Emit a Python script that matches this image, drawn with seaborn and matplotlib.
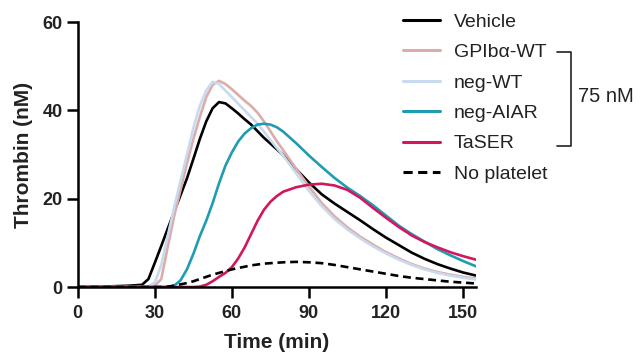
import matplotlib
matplotlib.use("Agg")
import matplotlib.pyplot as plt
from matplotlib.lines import Line2D
import seaborn as sns
import pandas as pd

time_min = [0, 10, 20, 25, 27.5, 30, 32.5, 35, 37.5, 40, 42.5, 45, 47.5, 50, 52.5,
            55, 57.5, 60, 62.5, 65, 67.5, 70, 72.5, 75, 77.5, 80, 85, 90, 95, 100,
            105, 110, 115, 120, 125, 130, 135, 140, 145, 150, 155]

vehicle = [0, 0.1, 0.3, 0.5, 1.8, 5.5, 9.3, 13.2, 17.0, 20.8, 24.6, 29.0, 33.5, 37.5, 40.5,
           41.9, 41.6, 40.5, 39.3, 38.0, 36.8, 35.3, 33.8, 32.5, 31.2, 29.9, 26.7, 23.7, 21.0, 18.9,
           17.0, 15.1, 13.1, 11.2, 9.5, 7.8, 6.4, 5.2, 4.2, 3.3, 2.6]

gpiba_wt = [0, 0, 0, 0, 0, 0.3, 1.8, 9.0, 16.0, 22.0, 28.0, 33.5, 38.5, 43.0, 45.8,
            46.7, 46.0, 44.8, 43.5, 42.2, 41.0, 39.5, 37.5, 35.3, 33.0, 31.0, 26.8, 22.8, 19.0, 16.0,
            13.5, 11.4, 9.6, 7.9, 6.5, 5.2, 4.2, 3.4, 2.8, 2.3, 1.9]

neg_wt = [0, 0, 0, 0, 0.2, 1.0, 5.0, 11.5, 18.0, 24.0, 30.0, 36.0, 41.0, 44.5, 46.5,
          46.0, 44.5, 43.0, 41.5, 40.0, 38.5, 37.0, 35.2, 33.3, 31.5, 29.8, 25.8, 21.8, 18.3, 15.4,
          13.0, 11.0, 9.2, 7.6, 6.2, 5.0, 4.0, 3.2, 2.6, 2.1, 1.7]

neg_aiar = [0, 0, 0, 0, 0, 0, 0, 0, 0.3, 1.5, 4.0, 7.5, 11.5, 15.0, 19.0,
            23.5, 27.5, 30.5, 33.0, 34.8, 36.0, 36.8, 37.0, 36.8, 36.2, 35.2, 32.6, 29.8, 27.2, 24.7,
            22.5, 20.6, 18.5, 16.2, 13.9, 12.0, 10.3, 8.6, 7.2, 5.9, 4.7]

taser = [0, 0, 0, 0, 0, 0, 0, 0, 0, 0, 0, 0, 0.1, 0.5, 1.3,
         2.3, 3.2, 4.5, 6.5, 9.0, 12.0, 15.0, 17.5, 19.3, 20.6, 21.6, 22.6, 23.2, 23.4, 23.0,
         22.0, 20.2, 17.9, 15.7, 13.6, 11.7, 10.2, 9.0, 7.9, 7.0, 6.2]

no_platelet = [0, 0, 0, 0, 0, 0, 0, 0.1, 0.3, 0.6, 0.9, 1.3, 1.8, 2.3, 2.8,
               3.2, 3.6, 4.0, 4.3, 4.6, 4.9, 5.1, 5.3, 5.4, 5.5, 5.6, 5.7, 5.6, 5.4, 5.0,
               4.5, 4.0, 3.5, 3.0, 2.5, 2.1, 1.8, 1.5, 1.2, 1.0, 0.8]

series_names = ["Vehicle", "GPIb\u03b1-WT", "neg-WT", "neg-AIAR", "TaSER", "No platelet"]
series_values = [vehicle, gpiba_wt, neg_wt, neg_aiar, taser, no_platelet]
colors = ["#000000", "#dcaca8", "#c8daef", "#1f9cb2", "#d2175f", "#000000"]

x_ticks = [0, 30, 60, 90, 120, 150]
y_ticks = [0, 20, 40, 60]

rows = []
for name, vals in zip(series_names, series_values):
    for t, v in zip(time_min, vals):
        rows.append({"Time": t, "Thrombin": v, "Series": name})
df = pd.DataFrame(rows)

sns.set_style("ticks")
plt.rcParams["font.family"] = ["Liberation Sans", "DejaVu Sans"]

fig = plt.figure(figsize=(6.43, 3.55), dpi=100)
ax = fig.add_axes([0.121, 0.1915, 0.619, 0.746])

palette = dict(zip(series_names, colors))
dashes = {n: "" for n in series_names}
dashes["No platelet"] = (3, 1.8)
sns.lineplot(data=df, x="Time", y="Thrombin", hue="Series", style="Series",
             hue_order=series_names, style_order=series_names,
             palette=palette, dashes=dashes, linewidth=1.9, ax=ax, legend=False,
             estimator=None)

ax.set_xlim(0, 155)
ax.set_ylim(0, 60)
ax.set_xticks(x_ticks)
ax.set_yticks(y_ticks)
for s in ["top", "right"]:
    ax.spines[s].set_visible(False)
for s in ["left", "bottom"]:
    ax.spines[s].set_linewidth(1.8)
    ax.spines[s].set_color("black")
ax.tick_params(axis="both", which="major", direction="out", length=8, width=1.8,
               labelsize=13, colors="black")
ax.tick_params(axis="x", pad=5)
ax.tick_params(axis="y", pad=3)
for lab in ax.get_xticklabels() + ax.get_yticklabels():
    lab.set_fontweight("bold")
    lab.set_color("#222222")
ax.set_xlabel("Time (min)", fontsize=15, fontweight="bold", color="#222222")
ax.set_ylabel("Thrombin (nM)", fontsize=15, fontweight="bold", color="#222222")
ax.xaxis.set_label_coords(0.5, (287 - 333) / 265.0)
ax.yaxis.set_label_coords((33 - 78) / 398.0, 0.5)

handles = []
for name, c in zip(series_names, colors):
    if name == "No platelet":
        handles.append(Line2D([0], [0], color=c, lw=2.2, ls="--", dashes=(3, 1.8)))
    else:
        handles.append(Line2D([0], [0], color=c, lw=2.2, ls="-"))
leg = fig.legend(handles, series_names, loc="upper left", bbox_to_anchor=(0.615, 0.985),
                 frameon=False, fontsize=14, handlelength=1.9, handletextpad=0.7,
                 labelspacing=0.66, borderaxespad=0)
for t in leg.get_texts():
    t.set_color("#222222")

# bracket for 75 nM
def fx(px):
    return px / 643.0
def fy(py):
    return 1 - py / 355.0
bx0, bx1 = 557, 571
by0, by1 = 52, 146
fig.add_artist(Line2D([fx(bx0), fx(bx1), fx(bx1), fx(bx0)],
                      [fy(by0), fy(by0), fy(by1), fy(by1)], color="#222222", lw=1.2))
fig.text(fx(578), fy(96), "75 nM", fontsize=14.5, va="center", ha="left", color="#222222")

fig.savefig("out.png", dpi=100)
